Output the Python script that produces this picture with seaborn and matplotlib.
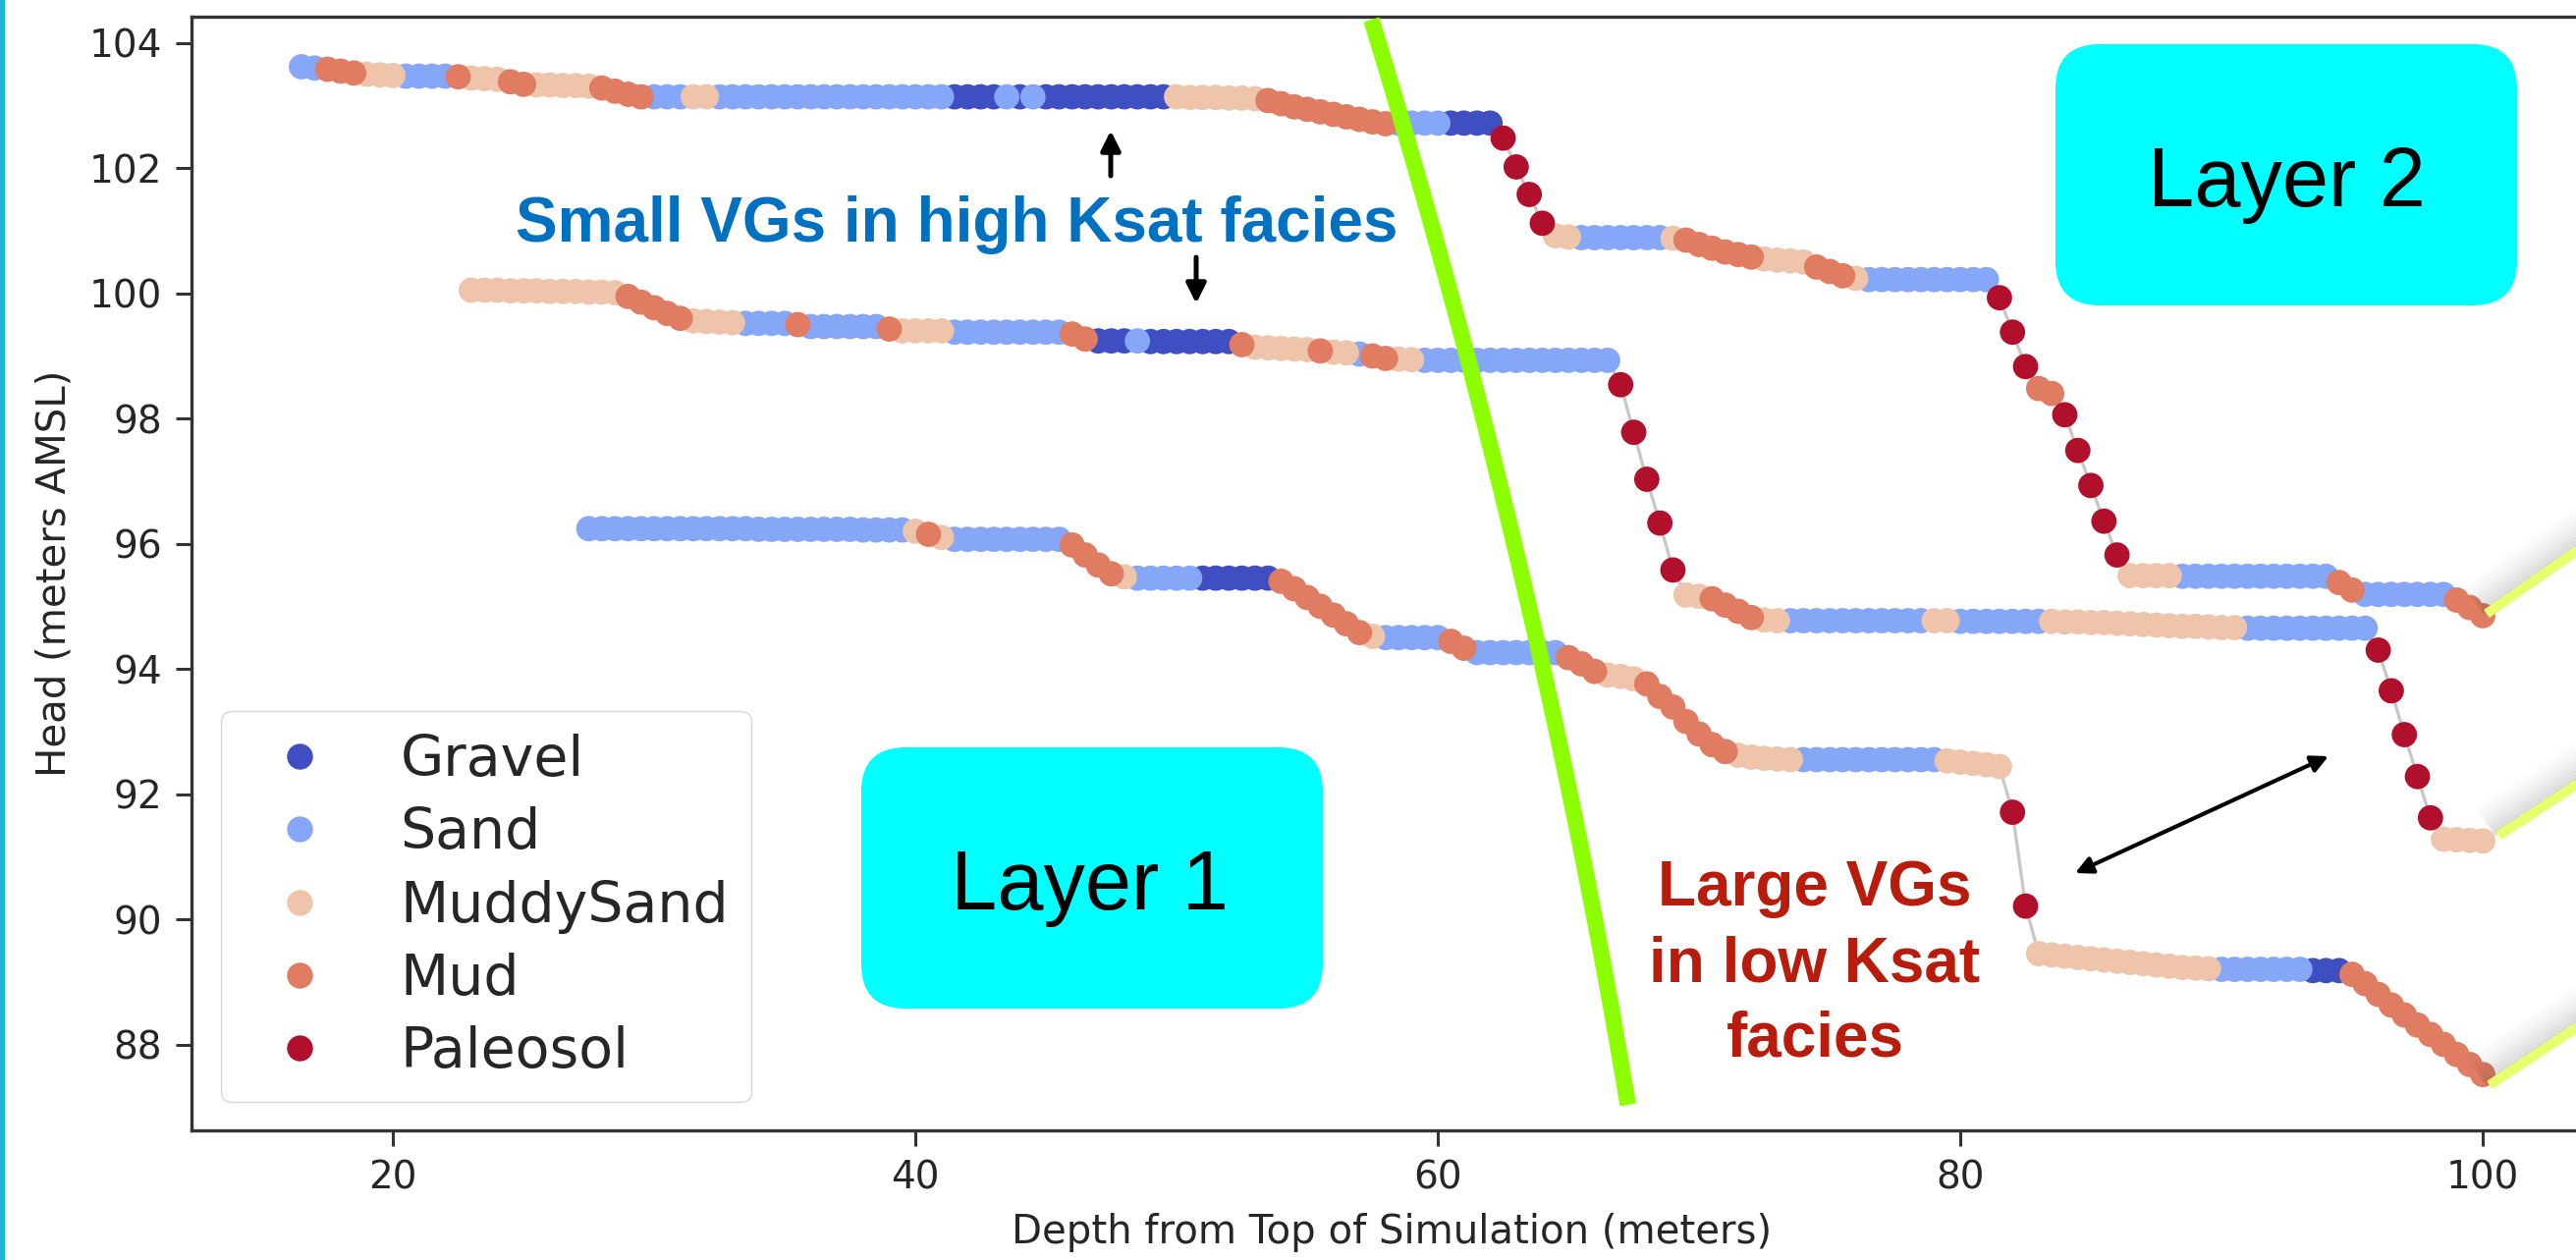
import numpy as np
import pandas as pd
import matplotlib.pyplot as plt
import seaborn as sns
from matplotlib.transforms import Affine2D
from matplotlib.patches import FancyBboxPatch, FancyArrowPatch, Rectangle
from matplotlib.lines import Line2D

# facies classes (drawing order = legend order) and their colours
facies_order = ["Gravel", "Sand", "MuddySand", "Mud", "Paleosol"]
facies_colors = ["#3F4FC1", "#86A7F7", "#EEC5AB", "#DF7C61", "#B0102B"]
codes = {"G": "Gravel", "S": "Sand", "U": "MuddySand", "M": "Mud", "P": "Paleosol"}

# head profiles, one value every 0.5 m of depth starting at start_*
start_1 = 16.5
head_1 = [103.62, 103.60, 103.58, 103.55, 103.52, 103.50, 103.49, 103.48,
          103.47, 103.47, 103.47, 103.47, 103.46, 103.44, 103.43, 103.42,
          103.38, 103.34, 103.33, 103.33, 103.32, 103.32, 103.31,
          103.28, 103.23, 103.18, 103.14, 103.14, 103.14, 103.14, 103.14, 103.14,
          103.14, 103.14, 103.14, 103.14, 103.14, 103.14, 103.14, 103.14, 103.14,
          103.14, 103.14, 103.14, 103.14, 103.14, 103.14, 103.14, 103.14, 103.14,
          103.14, 103.14, 103.14, 103.14, 103.14, 103.14, 103.14,
          103.14, 103.14, 103.14, 103.14, 103.14, 103.14, 103.14, 103.14, 103.14, 103.14,
          103.14, 103.13, 103.13, 103.13, 103.12, 103.12, 103.11,
          103.08, 103.03, 102.98, 102.94, 102.90, 102.86, 102.82, 102.78, 102.74, 102.71,
          102.72, 102.72, 102.72, 102.72, 102.72, 102.72, 102.72, 102.72,
          102.48, 102.02, 101.58, 101.12, 100.92, 100.90,
          100.89, 100.89, 100.89, 100.89, 100.89, 100.89, 100.89, 100.88,
          100.85, 100.78, 100.72, 100.66, 100.62, 100.58,
          100.55, 100.53, 100.52, 100.50, 100.42, 100.35, 100.28, 100.24,
          100.22, 100.22, 100.22, 100.22, 100.22, 100.22, 100.22, 100.22, 100.22, 100.22,
          99.93, 99.38, 98.83, 98.48, 98.40, 98.06, 97.49, 96.93, 96.36, 95.82,
          95.49, 95.49, 95.49, 95.49,
          95.48, 95.48, 95.48, 95.48, 95.48, 95.48, 95.48, 95.48, 95.48, 95.48, 95.48, 95.48,
          95.38, 95.26, 95.19, 95.19, 95.19, 95.19, 95.19, 95.19, 95.19,
          95.10, 94.98, 94.85]
facies_1 = ("SS MMM UUU SSSS M UUU MM UUUUU MMMM SSS UU SSSSSSSSSSSSSSSSSS GGGG S G S "
            "GGGGGGGGGG UUUUUUU MMMMMMMMMM SSSS GGGG PPPP UU SSSSSSS U MMMMMM UUUU MMM U "
            "SSSSSSSSSS PPP MM PPPPP UUUU SSSSSSSSSSSS MM SSSSSSS MMM")

start_2 = 23.0
head_2 = [100.05, 100.05, 100.05, 100.04, 100.04, 100.04, 100.03, 100.03, 100.03, 100.02, 100.02, 100.01,
          99.95, 99.86, 99.77, 99.68, 99.60, 99.56, 99.55, 99.54, 99.53,
          99.52, 99.52, 99.52, 99.52, 99.50, 99.47, 99.47, 99.47, 99.47, 99.47, 99.47, 99.43,
          99.40, 99.40, 99.40, 99.40,
          99.38, 99.38, 99.38, 99.38, 99.38, 99.38, 99.38, 99.38, 99.38,
          99.35, 99.27, 99.24, 99.24, 99.24, 99.24,
          99.23, 99.23, 99.23, 99.23, 99.23, 99.23, 99.23, 99.18,
          99.14, 99.13, 99.12, 99.11, 99.10, 99.08, 99.06, 99.05, 99.03, 99.00, 98.96, 98.95, 98.94,
          98.93, 98.93, 98.93, 98.93, 98.93, 98.93, 98.93, 98.93, 98.93, 98.93, 98.93, 98.93,
          98.93, 98.93, 98.93,
          98.54, 97.78, 97.03, 96.33, 95.58, 95.18, 95.16, 95.12, 95.02, 94.92, 94.82, 94.78, 94.77,
          94.77, 94.77, 94.77, 94.77, 94.77, 94.77, 94.77, 94.77, 94.77, 94.77, 94.77,
          94.77, 94.77,
          94.76, 94.76, 94.76, 94.76, 94.76, 94.76, 94.76,
          94.76, 94.75, 94.75, 94.74, 94.74, 94.73, 94.72, 94.71, 94.70, 94.69, 94.68, 94.68,
          94.67, 94.66, 94.66,
          94.65, 94.65, 94.65, 94.65, 94.65, 94.65, 94.65, 94.65, 94.65, 94.65,
          94.30, 93.65, 92.95, 92.28, 91.62, 91.28, 91.27, 91.26, 91.25]
facies_2 = ("UUUUUUUUUUUU MMMMM UUUU SSSS M SSSSSS M UUUU SSSSSSSSS MM GGG S GGGGGGG M UUUUU M UU S "
            "MM UU SSSSSSSSSSSSSSS PPPPP UU MMMM UU SSSSSSSSSSS UU SSSSSSS UUUUUUUUUUUUUUU "
            "SSSSSSSSSS PPPPP UUUU")

start_3 = 27.5
head_3 = [96.24, 96.24, 96.24, 96.24, 96.24, 96.24, 96.24, 96.24, 96.24, 96.24, 96.24, 96.24, 96.24,
          96.23, 96.23, 96.23, 96.23, 96.23, 96.23, 96.23, 96.23, 96.22, 96.22, 96.22, 96.22,
          96.20, 96.15, 96.10,
          96.07, 96.07, 96.07, 96.07, 96.07, 96.07, 96.07, 96.07, 96.07,
          95.98, 95.82, 95.66, 95.52, 95.47,
          95.45, 95.45, 95.45, 95.45, 95.45, 95.45, 95.45, 95.45, 95.45, 95.45, 95.45,
          95.40, 95.28, 95.14, 95.00, 94.86, 94.72, 94.58, 94.52,
          94.50, 94.50, 94.50, 94.50, 94.50, 94.44, 94.33,
          94.26, 94.26, 94.26, 94.26, 94.26, 94.26, 94.26,
          94.18, 94.08, 93.96, 93.90, 93.88, 93.84,
          93.76, 93.56, 93.39, 93.16, 92.96, 92.79, 92.68,
          92.62, 92.59, 92.57, 92.56, 92.55,
          92.55, 92.55, 92.55, 92.55, 92.55, 92.55, 92.55, 92.55, 92.55, 92.55, 92.55,
          92.53, 92.51, 92.49, 92.47, 92.44, 91.71, 90.21,
          89.45, 89.43, 89.41, 89.39, 89.37, 89.35, 89.33, 89.31, 89.29, 89.27, 89.25, 89.23,
          89.22, 89.21,
          89.20, 89.20, 89.20, 89.20, 89.20, 89.20, 89.20, 89.18, 89.18, 89.18,
          89.12, 88.97, 88.80, 88.63, 88.47, 88.31, 88.16, 88.00, 87.84, 87.68, 87.52]
facies_3 = ("SSSSSSSSSSSSSSSSSSSSSSSSS U M U SSSSSSSSS MMMM U SSSSS GGGGGG MMMMMMM U SSSSS MM "
            "SSSSSSS MMM UUU MMMMMMM UUUUU SSSSSSSSSSS UUUUU PP UUUUUUUUUUUUUU SSSSSSS GGG "
            "MMMMMMMMMMM")

frames = []
for k, (start, heads, fac) in enumerate([(start_1, head_1, facies_1),
                                         (start_2, head_2, facies_2),
                                         (start_3, head_3, facies_3)]):
    fac = fac.replace(" ", "")
    assert len(fac) == len(heads), (k, len(fac), len(heads))
    frames.append(pd.DataFrame({"Depth": start + 0.5 * np.arange(len(heads)),
                                "Head": heads,
                                "Facies": [codes[c] for c in fac],
                                "Profile": k}))
df = pd.concat(frames, ignore_index=True)
df["rank"] = df["Facies"].map({f: i for i, f in enumerate(facies_order)})

W, H = 2623, 1283
sns.set_style("white")
fig = plt.figure(figsize=(W / 100, H / 100), dpi=100)
ax = fig.add_axes([195 / W, 1 - 1150.5 / H, (2640 - 195) / W, (1150.5 - 17) / H])

sns.lineplot(data=df, x="Depth", y="Head", units="Profile", estimator=None,
             color="#c8c8c8", lw=2.4, ax=ax, legend=False)
sns.scatterplot(data=df.sort_values("rank", kind="stable"), x="Depth", y="Head",
                hue="Facies", hue_order=facies_order, palette=facies_colors,
                s=345, linewidth=0, ax=ax, legend=False, zorder=3)

ax.set_xlim(12.29, 104.21)
ax.set_ylim(86.635, 104.42)
ax.set_xticks([20, 40, 60, 80, 100])
ax.set_yticks(range(88, 105, 2))
ax.tick_params(labelsize=28, length=11.5, width=2.2, pad=10, color="#333333",
               labelcolor="#262626", left=True, bottom=True)
for s in ax.spines.values():
    s.set_linewidth(2.4)
    s.set_color("#333333")
ax.set_xlabel("Depth from Top of Simulation (meters)", fontsize=29, labelpad=12, color="#262626")
ax.set_ylabel("Head (meters AMSL)", fontsize=29, labelpad=11, color="#262626")

handles = [Line2D([], [], ls="", marker="o", ms=18, mfc=c, mec=c) for c in facies_colors]
ax.legend(handles, facies_order, loc="lower left", bbox_to_anchor=(0.0123, 0.0251),
          borderaxespad=0, fontsize=41, labelspacing=0.34, handletextpad=0.8,
          borderpad=0.4, frameon=True)

# slide overlays, in pixels from the top-left corner
px = Affine2D().scale(1 / W, -1 / H).translate(0, 1) + fig.transFigure
green_x = [1394, 1430, 1466, 1498, 1528, 1560, 1600, 1630, 1659]
green_y = [20, 130, 250, 373, 498, 630, 840, 960, 1125]
callout_lines = [((2532, 625), (2645, 546)), ((2544, 851), (2645, 785)), ((2535, 1105), (2645, 1032))]

fig.add_artist(Rectangle((0, 0), 5, H, transform=px, color="#1CB5D3", lw=0))
for (x0, y0), (x1, y1) in callout_lines:
    for off in range(3, 40, 3):
        a = 0.10 * (1 - off / 40) ** 1.5
        fig.add_artist(Line2D([x0 - 0.57 * off, x1 - 0.57 * off], [y0 - 0.82 * off, y1 - 0.82 * off],
                              transform=px, color="#333333", alpha=a, lw=5))
    fig.add_artist(Line2D([x0, x1], [y0, y1], transform=px, color="#E6FF6E", lw=7.2,
                          solid_capstyle="butt"))

# smooth the hand-drawn divider through its anchor points
coef = np.polyfit(green_y, green_x, 2)
gy = np.linspace(green_y[0], green_y[-1], 60)
fig.add_artist(Line2D(np.polyval(coef, gy), gy, transform=px, color="#8CFF00", lw=12,
                      solid_capstyle="butt"))

for (bx, by, bw, bh), label, (tx, ty) in [((877, 761, 470, 266), "Layer 1", (1109, 926)),
                                         ((2093, 45, 470, 266), "Layer 2", (2328, 210))]:
    fig.add_artist(FancyBboxPatch((bx, by), bw, bh, boxstyle="round,pad=0,rounding_size=45",
                                  transform=px, fc="#00FFFF", ec="none"))
    fig.text(tx, ty, label, transform=px, ha="center", va="baseline", fontsize=61,
             family=["Liberation Sans", "DejaVu Sans"], color="black")

fig.text(974, 246, "Small VGs in high Ksat facies", transform=px, ha="center", va="baseline",
         fontsize=46, fontweight="bold", color="#0070C0", family=["Liberation Sans", "DejaVu Sans"])
for line, yb in [("Large VGs", 922), ("in low Ksat", 999), ("facies", 1075)]:
    fig.text(1848, yb, line, transform=px, ha="center", va="baseline", fontsize=46,
             fontweight="bold", color="#B71C0C", family=["Liberation Sans", "DejaVu Sans"])

for p0, p1, style, lw, ms in [((1131, 179), (1131, 133), "-|>", 3.6, 30),
                              ((1218, 262), (1218, 309), "-|>", 3.6, 30),
                              ((2113, 889), (2371, 770), "<|-|>", 3.0, 26)]:
    fig.add_artist(FancyArrowPatch(p0, p1, transform=px, arrowstyle=style, mutation_scale=ms,
                                   lw=lw, color="black", shrinkA=0, shrinkB=0))

fig.savefig("out.png", dpi=100)
